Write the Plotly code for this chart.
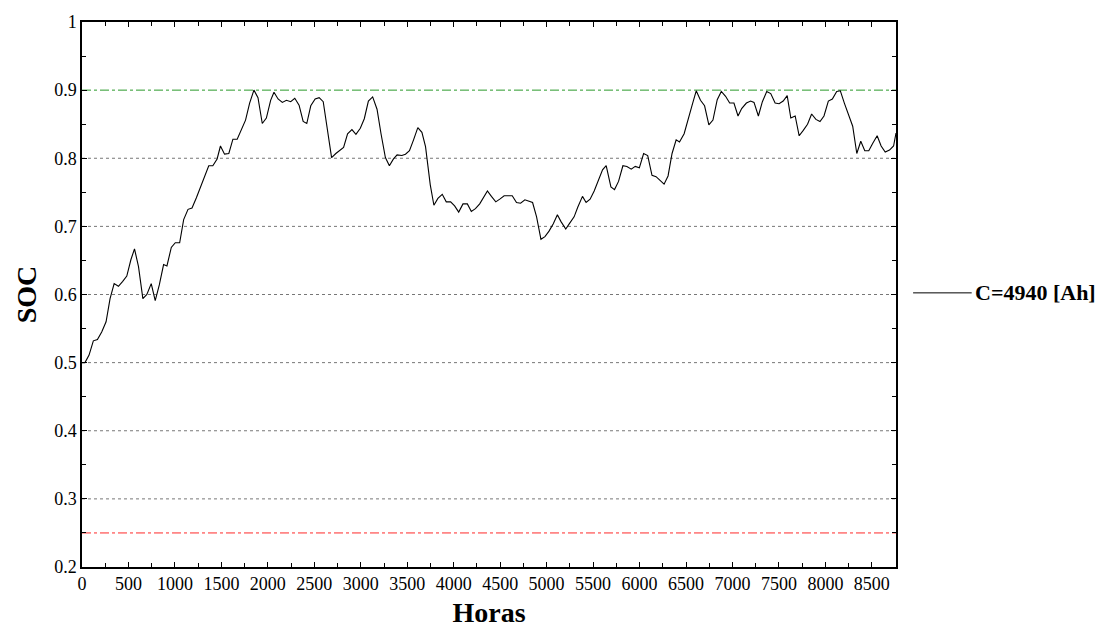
import plotly.graph_objects as go

# Battery state of charge over one year (hourly simulation, sampled)
horas = [
    0, 32, 76, 122, 166, 212, 259, 302, 346, 392, 436, 482, 526, 565, 608, 655,
    698, 745, 788, 832, 878, 914, 961, 1004, 1051, 1094, 1141, 1184, 1231, 1274,
    1321, 1364, 1408, 1454, 1490, 1534, 1580, 1624, 1670, 1714, 1760, 1804, 1850,
    1894, 1940, 1984, 2030, 2066, 2110, 2156, 2200, 2246, 2290, 2336, 2380, 2419,
    2462, 2509, 2552, 2596, 2642, 2686, 2732, 2776, 2815, 2858, 2905, 2948, 2995,
    3038, 3082, 3128, 3175, 3218, 3265, 3308, 3352, 3391, 3442, 3481, 3524, 3568,
    3614, 3658, 3697, 3748, 3787, 3830, 3877, 3920, 3967, 4010, 4054, 4100, 4147,
    4190, 4234, 4280, 4324, 4363, 4406, 4453, 4496, 4543, 4586, 4630, 4676, 4720,
    4766, 4810, 4849, 4892, 4939, 4982, 5026, 5072, 5116, 5155, 5206, 5245, 5296,
    5335, 5386, 5425, 5468, 5512, 5558, 5602, 5641, 5692, 5731, 5774, 5821, 5864,
    5911, 5954, 5998, 6044, 6088, 6134, 6178, 6221, 6264, 6307, 6350, 6394, 6430,
    6480, 6523, 6566, 6610, 6656, 6700, 6746, 6790, 6836, 6880, 6926, 6970, 7016,
    7060, 7099, 7150, 7196, 7232, 7279, 7322, 7369, 7412, 7459, 7502, 7546, 7589,
    7628, 7675, 7718, 7762, 7808, 7852, 7898, 7942, 7985, 8032, 8075, 8122, 8161,
    8204, 8251, 8294, 8338, 8381, 8424, 8467, 8510, 8557, 8600, 8644, 8690, 8734,
    8760,
]
soc = [
    0.500, 0.500, 0.511, 0.532, 0.534, 0.545, 0.560, 0.594, 0.616, 0.612, 0.619,
    0.627, 0.651, 0.667, 0.641, 0.594, 0.600, 0.616, 0.591, 0.614, 0.644, 0.642,
    0.669, 0.676, 0.676, 0.710, 0.725, 0.727, 0.742, 0.757, 0.774, 0.789, 0.789,
    0.799, 0.818, 0.806, 0.807, 0.828, 0.828, 0.841, 0.856, 0.881, 0.900, 0.889,
    0.851, 0.859, 0.885, 0.897, 0.887, 0.882, 0.885, 0.883, 0.888, 0.878, 0.854,
    0.851, 0.877, 0.887, 0.889, 0.883, 0.841, 0.801, 0.807, 0.812, 0.816, 0.836,
    0.842, 0.835, 0.844, 0.858, 0.884, 0.890, 0.872, 0.836, 0.801, 0.789, 0.799,
    0.805, 0.804, 0.806, 0.811, 0.827, 0.845, 0.838, 0.817, 0.761, 0.731, 0.741,
    0.747, 0.736, 0.736, 0.730, 0.721, 0.733, 0.733, 0.722, 0.726, 0.733, 0.743,
    0.752, 0.744, 0.736, 0.740, 0.745, 0.745, 0.745, 0.735, 0.734, 0.739, 0.737,
    0.735, 0.714, 0.681, 0.685, 0.693, 0.704, 0.717, 0.707, 0.696, 0.704, 0.714,
    0.728, 0.744, 0.735, 0.740, 0.752, 0.768, 0.783, 0.789, 0.758, 0.754, 0.766,
    0.789, 0.788, 0.784, 0.788, 0.786, 0.807, 0.804, 0.775, 0.773, 0.767, 0.762,
    0.774, 0.807, 0.827, 0.824, 0.836, 0.859, 0.878, 0.899, 0.885, 0.877, 0.849,
    0.856, 0.886, 0.898, 0.891, 0.881, 0.881, 0.862, 0.873, 0.881, 0.884, 0.882,
    0.862, 0.883, 0.898, 0.895, 0.881, 0.880, 0.884, 0.892, 0.859, 0.862, 0.833,
    0.841, 0.850, 0.865, 0.857, 0.854, 0.862, 0.884, 0.887, 0.898, 0.899, 0.881,
    0.863, 0.847, 0.807, 0.825, 0.811, 0.811, 0.822, 0.833, 0.818, 0.809, 0.812,
    0.818, 0.837,
]

serie_nombre = "C=4940 [Ah]"
soc_max = 0.9     # upper charge limit
soc_min = 0.25    # lower discharge limit
x_ticks = list(range(0, 9000, 500))
y_ticks = [0.2, 0.3, 0.4, 0.5, 0.6, 0.7, 0.8, 0.9, 1.0]
y_tick_text = ["0.2", "0.3", "0.4", "0.5", "0.6", "0.7", "0.8", "0.9", "1"]
grid_levels = [0.3, 0.4, 0.5, 0.6, 0.7, 0.8]

FONT = "Liberation Serif"

fig = go.Figure()
fig.add_trace(go.Scatter(
    x=horas, y=soc, mode="lines", name=serie_nombre, showlegend=False,
    line=dict(color="black", width=1.1),
))

# dotted reference levels
for g in grid_levels:
    fig.add_shape(type="line", xref="paper", x0=0, x1=1, yref="y", y0=g, y1=g,
                  line=dict(color="#777777", width=1, dash="dot"), layer="below")
# SOC limits
fig.add_shape(type="line", xref="paper", x0=0, x1=1, yref="y", y0=soc_max, y1=soc_max,
              line=dict(color="#2a9a2a", width=1, dash="dashdot"), layer="below")
fig.add_shape(type="line", xref="paper", x0=0, x1=1, yref="y", y0=soc_min, y1=soc_min,
              line=dict(color="#ff2a2a", width=1, dash="dashdot"), layer="below")

# series key placed in the right margin
key_y = 0.503
fig.add_shape(type="line", xref="paper", yref="paper",
              x0=1.021, x1=1.093, y0=key_y, y1=key_y,
              line=dict(color="black", width=1))
fig.add_annotation(xref="paper", yref="paper", x=1.095, y=key_y,
                   xanchor="left", yanchor="middle", showarrow=False,
                   text="<b>" + serie_nombre + "</b>",
                   font=dict(family=FONT, size=22, color="black"))

axis_common = dict(
    showline=True, linecolor="black", linewidth=1.5, mirror="ticks",
    ticks="inside", ticklen=5, tickcolor="black", tickwidth=1,
    showgrid=False, zeroline=False, automargin=False,
    tickfont=dict(family=FONT, size=18, color="black"),
)

fig.update_xaxes(
    range=[0, 8760], tickvals=x_ticks,
    minor=dict(ticks="inside", dtick=250, tick0=0, ticklen=4, tickcolor="black"),
    title=dict(text="<b>Horas</b>", font=dict(family=FONT, size=28, color="black"), standoff=10),
    **axis_common,
)
fig.update_yaxes(
    range=[0.2, 1.0], tickvals=y_ticks, ticktext=y_tick_text,
    minor=dict(ticks="inside", dtick=0.05, tick0=0.2, ticklen=4, tickcolor="black"),
    title=dict(text="<b>SOC</b>", font=dict(family=FONT, size=28, color="black"), standoff=9),
    **axis_common,
)

fig.update_layout(
    width=1098, height=628,
    margin=dict(l=82, r=202, t=22, b=61),
    paper_bgcolor="white", plot_bgcolor="white",
    font=dict(family=FONT, color="black"),
    showlegend=False,
)

fig.write_html("out.html")
